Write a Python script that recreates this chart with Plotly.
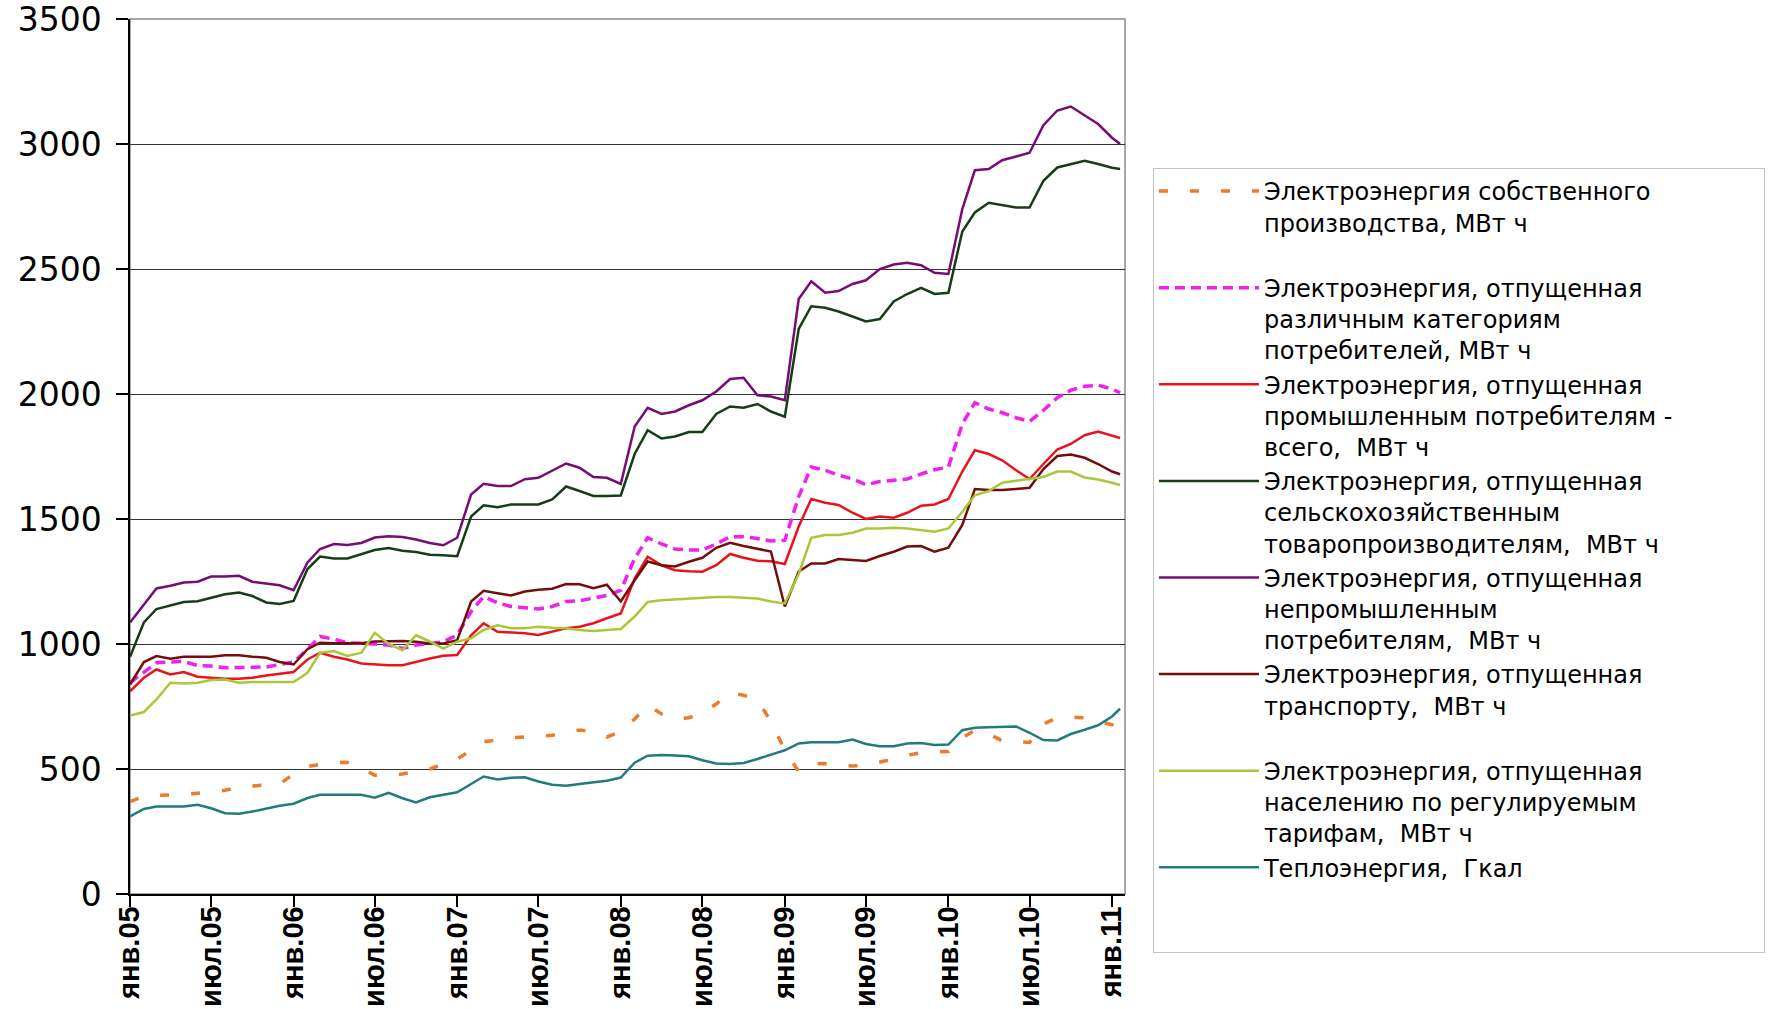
import pandas as pd
import plotly.graph_objects as go

# ---- data ----
dates = list(pd.date_range("2005-01-01", "2011-01-01", freq="MS")) + [pd.Timestamp("2011-01-19")]

tick_dates = ["2005-01-01", "2005-07-01", "2006-01-01", "2006-07-01", "2007-01-01", "2007-07-01",
              "2008-01-01", "2008-07-01", "2009-01-01", "2009-07-01", "2010-01-01", "2010-07-01",
              "2011-01-01"]
tick_labels = ["янв.05", "июл.05", "янв.06", "июл.06", "янв.07", "июл.07", "янв.08", "июл.08",
               "янв.09", "июл.09", "янв.10", "июл.10", "янв.11"]

own_production = [370, 390, 395, 395, 398, 403, 406, 415, 428, 432,
                  437, 440, 480, 510, 518, 525, 527, 505, 475, 475,
                  480, 490, 500, 520, 540, 575, 610, 615, 625, 628,
                  632, 635, 645, 656, 650, 628, 650, 700, 756, 720,
                  700, 705, 725, 760, 805, 795, 777, 690, 575, 490,
                  520, 522, 515, 512, 515, 527, 540, 555, 565, 568,
                  570, 625, 655, 640, 613, 610, 606, 680, 706, 708,
                  705, 690, 677, 675]

various_consumers = [845, 885, 925, 928, 930, 914, 912, 905, 905, 905,
                     908, 918, 928, 979, 1030, 1019, 1005, 1003, 1000, 996,
                     982, 996, 1002, 1009, 1036, 1130, 1190, 1165, 1150, 1146,
                     1140, 1150, 1170, 1173, 1183, 1194, 1215, 1342, 1425, 1400,
                     1380, 1376, 1376, 1400, 1429, 1429, 1422, 1412, 1415, 1590,
                     1708, 1695, 1675, 1660, 1637, 1650, 1655, 1660, 1680, 1697,
                     1708, 1880, 1965, 1940, 1925, 1905, 1890, 1935, 1985, 2015,
                     2031, 2035, 2020, 2005]

industrial = [811, 865, 898, 878, 888, 869, 865, 861, 861, 865,
              874, 882, 888, 938, 965, 949, 938, 922, 918, 915,
              915, 929, 942, 953, 956, 1035, 1083, 1049, 1047, 1043,
              1036, 1049, 1063, 1069, 1083, 1103, 1122, 1262, 1349, 1315,
              1295, 1291, 1289, 1315, 1360, 1345, 1333, 1331, 1320, 1470,
              1580, 1565, 1556, 1525, 1500, 1510, 1505, 1525, 1553, 1558,
              1580, 1690, 1775, 1760, 1735, 1695, 1660, 1720, 1778, 1800,
              1835, 1850, 1835, 1824]

agricultural = [949, 1086, 1140, 1155, 1168, 1171, 1186, 1199, 1206, 1192,
                1166, 1160, 1172, 1300, 1350, 1342, 1342, 1360, 1376, 1384,
                1373, 1368, 1357, 1355, 1351, 1510, 1555, 1547, 1558, 1558,
                1558, 1578, 1630, 1612, 1592, 1592, 1594, 1760, 1855, 1822,
                1830, 1848, 1848, 1920, 1950, 1945, 1960, 1930, 1909, 2260,
                2351, 2345, 2330, 2310, 2290, 2300, 2370, 2400, 2425, 2400,
                2405, 2650, 2726, 2765, 2755, 2746, 2746, 2853, 2906, 2920,
                2933, 2920, 2905, 2900]

non_industrial = [1086, 1160, 1222, 1233, 1246, 1249, 1270, 1270, 1273, 1249,
                  1243, 1235, 1215, 1326, 1380, 1400, 1396, 1404, 1426, 1431,
                  1428, 1418, 1404, 1395, 1425, 1598, 1641, 1632, 1632, 1659,
                  1665, 1692, 1722, 1705, 1668, 1665, 1640, 1870, 1945, 1920,
                  1930, 1955, 1975, 2010, 2060, 2065, 1995, 1990, 1975, 2380,
                  2451, 2405, 2412, 2440, 2455, 2500, 2518, 2525, 2515, 2485,
                  2480, 2740, 2895, 2900, 2935, 2950, 2965, 3075, 3134, 3150,
                  3115, 3080, 3025, 3000]

transport = [838, 928, 952, 941, 949, 949, 949, 955, 955, 949,
             945, 928, 918, 979, 1005, 1003, 1003, 1003, 1010, 1012,
             1012, 1009, 1002, 1002, 1015, 1170, 1213, 1203, 1194, 1210,
             1217, 1221, 1240, 1239, 1223, 1237, 1170, 1255, 1330, 1315,
             1310, 1329, 1345, 1385, 1405, 1392, 1382, 1370, 1150, 1290,
             1322, 1322, 1340, 1335, 1332, 1352, 1369, 1390, 1392, 1369,
             1385, 1476, 1620, 1616, 1616, 1620, 1625, 1700, 1752, 1758,
             1745, 1720, 1690, 1679]

population = [714, 728, 778, 845, 842, 845, 856, 858, 845, 848,
              848, 848, 848, 885, 965, 972, 952, 965, 1045, 1000,
              975, 1035, 1010, 982, 1009, 1023, 1056, 1075, 1063, 1063,
              1069, 1065, 1063, 1056, 1052, 1056, 1060, 1110, 1168, 1175,
              1178, 1179, 1185, 1188, 1188, 1186, 1182, 1170, 1162, 1280,
              1425, 1436, 1436, 1445, 1462, 1462, 1465, 1462, 1456, 1449,
              1462, 1529, 1595, 1612, 1645, 1653, 1660, 1668, 1690, 1690,
              1666, 1658, 1645, 1636]

heat = [310, 340, 350, 350, 350, 357, 343, 323, 321, 330,
        343, 353, 361, 384, 397, 397, 397, 397, 385, 405,
        383, 366, 387, 396, 407, 440, 470, 458, 465, 467,
        450, 437, 433, 440, 447, 453, 466, 525, 553, 556,
        554, 551, 535, 522, 520, 524, 540, 556, 575, 602,
        607, 607, 607, 618, 600, 591, 591, 602, 604, 596,
        598, 655, 665, 667, 667, 670, 645, 616, 614, 640,
        657, 675, 710, 741]

PAD = "&nbsp;" * 13
names = [
    "Электроэнергия собственного<br>производства, МВт ч<br>&nbsp;",
    "Электроэнергия, отпущенная<br>различным категориям<br>потребителей, МВт ч",
    "Электроэнергия, отпущенная<br>промышленным потребителям -<br>всего,  МВт ч",
    "Электроэнергия, отпущенная<br>сельскохозяйственным<br>товаропроизводителям,  МВт ч" + PAD,
    "Электроэнергия, отпущенная<br>непромышленным<br>потребителям,  МВт ч",
    "Электроэнергия, отпущенная<br>транспорту,  МВт ч<br>&nbsp;",
    "Электроэнергия, отпущенная<br>населению по регулируемым<br>тарифам,  МВт ч",
    "Теплоэнергия,  Гкал<br>&nbsp;<br>&nbsp;",
]
series = [own_production, various_consumers, industrial, agricultural,
          non_industrial, transport, population, heat]
colors = ["#EE7A2A", "#F020F0", "#E8141C", "#183C18", "#760C74", "#760D0D", "#A8C83A", "#217C7A"]
dashes = ["9px,22px", "10px,6px", "solid", "solid", "solid", "solid", "solid", "solid"]
widths = [3.5, 3.5, 2.5, 2.5, 2.5, 2.5, 2.5, 2.5]

fig = go.Figure()
for name, vals, col, dash, w in zip(names, series, colors, dashes, widths):
    fig.add_trace(go.Scatter(x=dates, y=vals, mode="lines", name=name,
                             line=dict(color=col, width=w, dash=dash)))

fig.update_layout(
    width=1777, height=1009,
    margin=dict(l=130, r=652, t=19, b=115, autoexpand=False),
    paper_bgcolor="white", plot_bgcolor="white",
    showlegend=True,
    legend=dict(x=1.0281, y=0.8297, xanchor="left", yanchor="top",
                bgcolor="white", bordercolor="#C4C4C4", borderwidth=1,
                font=dict(family="DejaVu Sans", size=24, color="black"),
                valign="top", itemwidth=100, traceorder="normal"),
    xaxis=dict(type="date", range=["2005-01-01", "2011-01-30"], automargin=False,
               tickmode="array", tickvals=tick_dates, ticktext=tick_labels,
               tickangle=-90, ticks="outside", ticklen=11, tickcolor="black", tickwidth=1.5,
               showgrid=False, showline=True, linecolor="black", linewidth=1.5,
               ticklabelstandoff=-12, ticklabeloverflow="allow",
               tickfont=dict(family="Liberation Sans", size=29, color="black", weight="bold")),
    yaxis=dict(range=[0, 3500], automargin=False, tickmode="array",
               tickvals=[0, 500, 1000, 1500, 2000, 2500, 3000, 3500],
               ticks="outside", ticklen=12, tickcolor="black", tickwidth=1.5,
               showgrid=True, gridcolor="#333333", gridwidth=1.4, zeroline=False,
               showline=True, linecolor="black", linewidth=1.5, ticklabelstandoff=8,
               ticklabeloverflow="allow",
               tickfont=dict(family="DejaVu Sans", size=33, color="black")),
    shapes=[dict(type="rect", xref="paper", yref="paper", x0=0, y0=0, x1=1, y1=1,
                 line=dict(color="#8C8C8C", width=1.5), layer="below")],
)

fig.write_html("out.html", config={"displayModeBar": False},
               post_script="document.body.style.margin='0';")
